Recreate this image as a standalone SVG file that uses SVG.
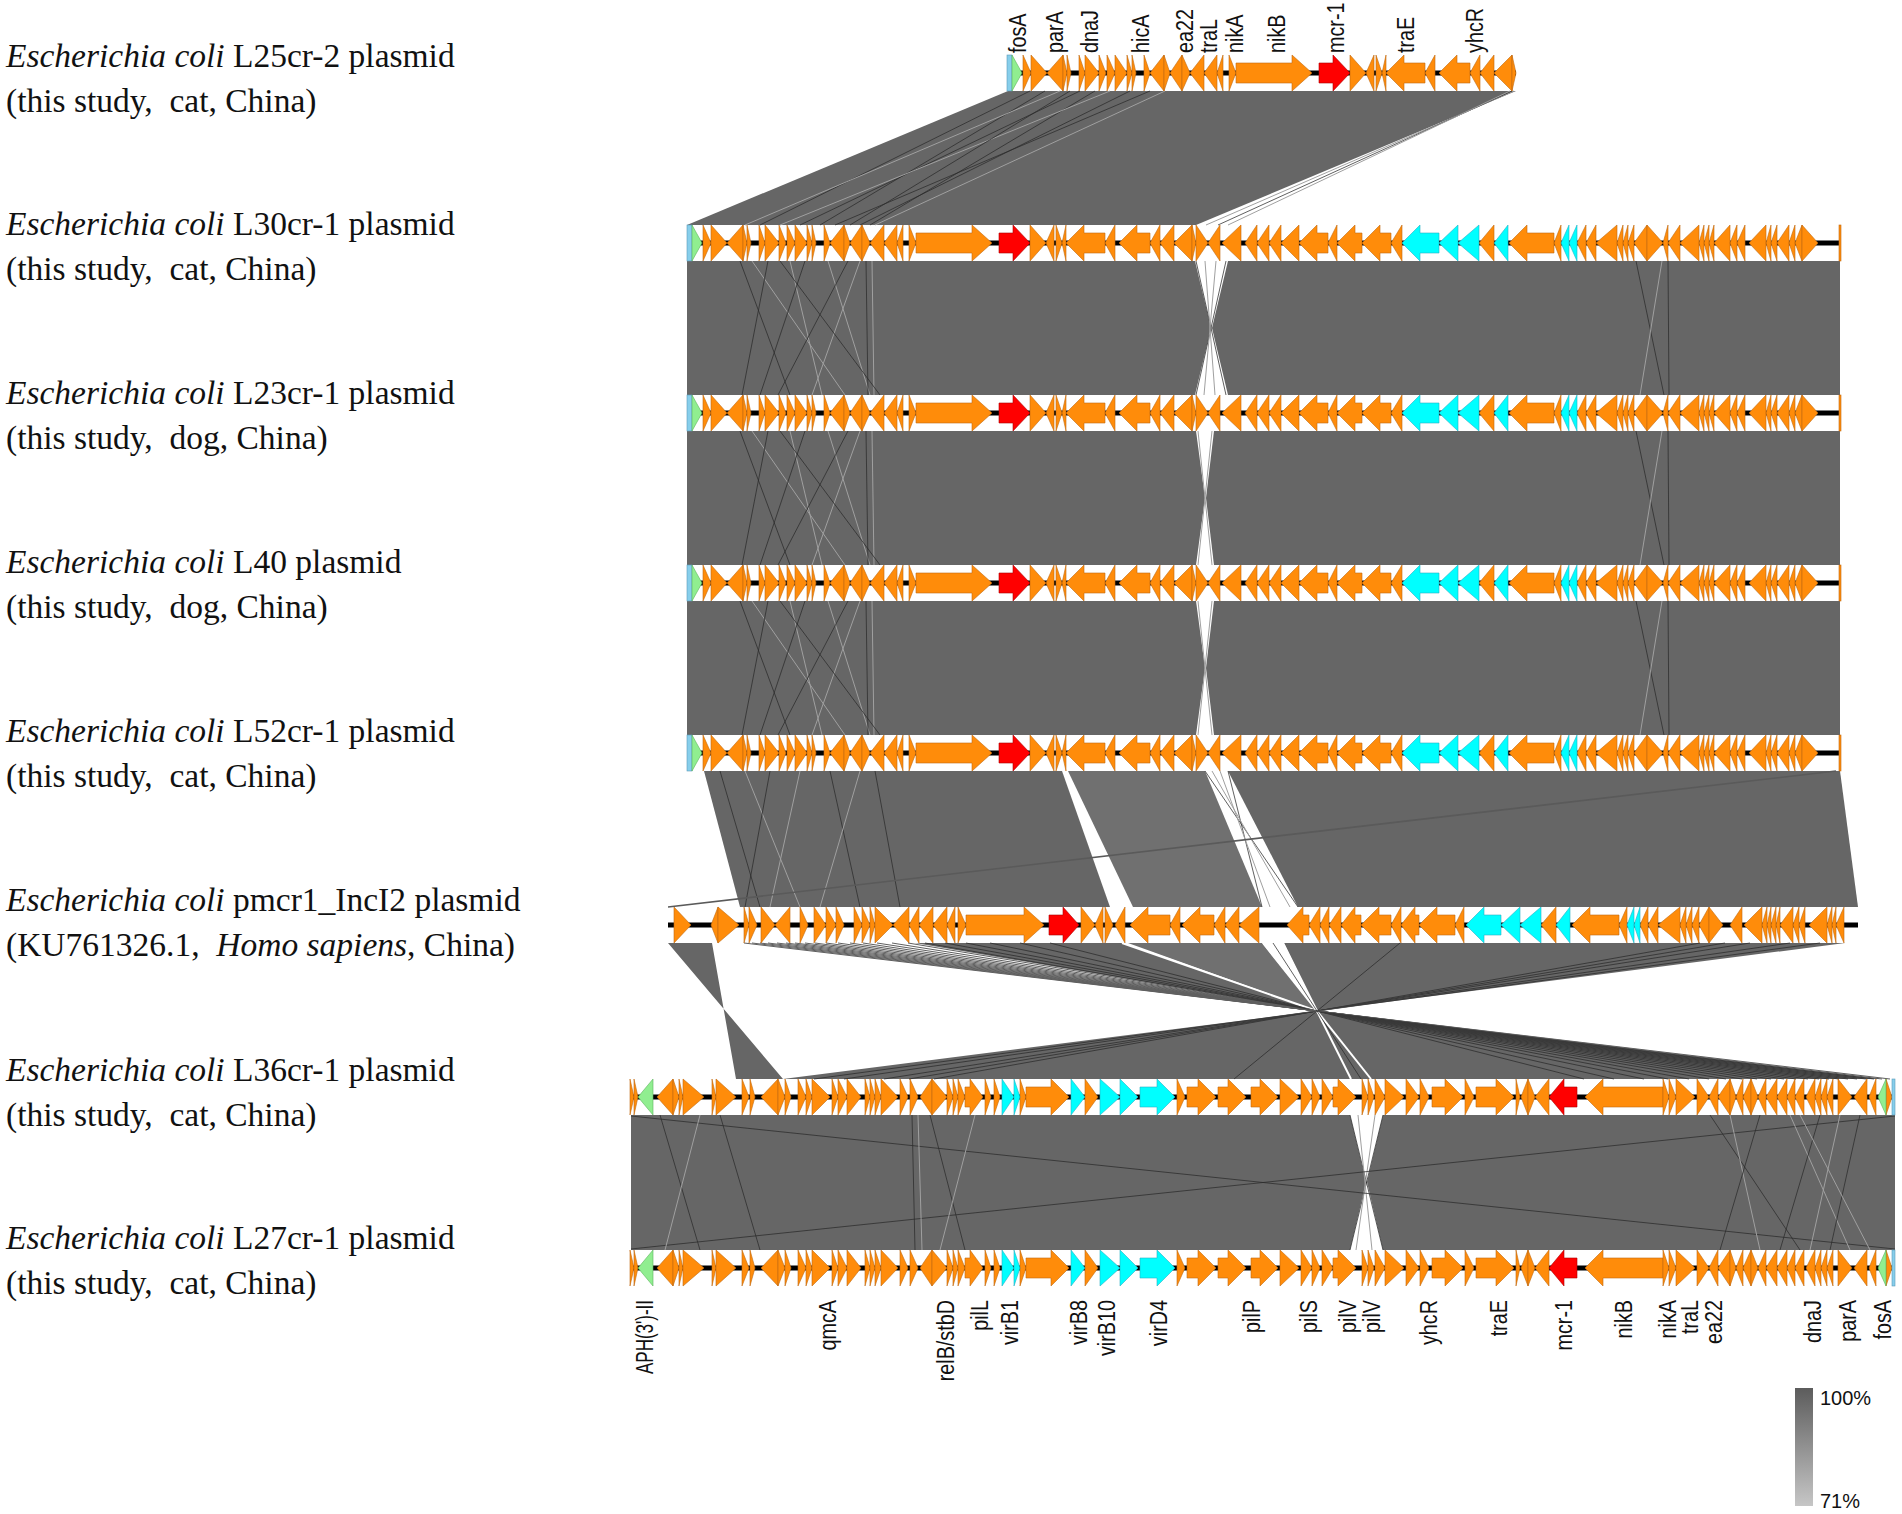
<svg xmlns="http://www.w3.org/2000/svg" xmlns:xlink="http://www.w3.org/1999/xlink" width="1902" height="1514" viewBox="0 0 1902 1514">
<style>
.o polygon,.o rect{fill:#FF8C0A;stroke:#C06A12;stroke-width:0.6}
.c polygon{fill:#00FFFF;stroke:#2AAFC4;stroke-width:0.6}
.r{fill:#FF0000;stroke:#A80000;stroke-width:0.6}
.g{fill:#90EE90;stroke:#5DB45D;stroke-width:0.6}
.b{fill:#87CEEB;stroke:#5A9BB8;stroke-width:0.6}
.bb{stroke:#000;stroke-width:5}
.gr{fill:#666666}
.gm{fill:#707070}
.ld{stroke:#2b2b2b;stroke-width:1;fill:none;opacity:.75}
.ll{stroke:#a0a0a0;stroke-width:1;fill:none}
.lw{stroke:#ffffff;stroke-width:2;fill:none}
.lab{font-family:"Liberation Sans",Arial,sans-serif}
.lab{font-family:"Liberation Serif","Times New Roman",serif;font-size:33.5px;fill:#111;white-space:pre}
.gl{font-family:"Liberation Sans",Arial,sans-serif;font-size:23px;fill:#111}
.lg{font-family:"Liberation Sans",Arial,sans-serif;font-size:20px;fill:#111}
</style>
<defs>
<linearGradient id="scale" x1="0" y1="0" x2="0" y2="1">
<stop offset="0" stop-color="#5c5c5c"/>
<stop offset="1" stop-color="#c6c6c6"/>
</linearGradient>
<g id="genes-a">
<rect class="b" x="687" y="-18" width="5" height="36"/>
<polygon class="g" points="692,-18 702,0 692,18"/>
<g class="o">
<polygon points="703,-18 711,0 703,18"/>
<polygon points="711,-18 727,0 711,18"/>
<polygon points="743,-18 727,0 743,18"/>
<polygon points="743,-18 747,0 743,18"/>
<polygon points="747,-18 751,0 747,18"/>
<polygon points="759,-18 765,0 759,18"/>
<polygon points="765,-18 779,0 765,18"/>
<polygon points="779,-18 786,0 779,18"/>
<polygon points="787,-18 795,0 787,18"/>
<polygon points="795,-18 807,0 795,18"/>
<polygon points="807,-18 812,0 807,18"/>
<polygon points="812,-18 816,0 812,18"/>
<polygon points="824,-18 830,0 824,18"/>
<polygon points="844,-18 830,0 844,18"/>
<polygon points="844,-18 850,0 844,18"/>
<polygon points="862,-18 850,0 862,18"/>
<polygon points="862,-18 870,0 862,18"/>
<polygon points="884,-18 870,0 884,18"/>
<polygon points="897,-18 884,0 897,18"/>
<polygon points="903,-18 897,0 903,18"/>
<polygon points="909,-18 916,0 909,18"/>
<polygon points="916,-10 972,-10 972,-18 992,0 972,18 972,10 916,10"/>
<polygon points="1030,-18 1046,0 1030,18"/>
<polygon points="1054,-18 1046,0 1054,18"/>
<polygon points="1056,-18 1062,0 1056,18"/>
<polygon points="1066,-18 1062,0 1066,18"/>
<polygon points="1105,-10 1084,-10 1084,-18 1066,0 1084,18 1084,10 1105,10"/>
<polygon points="1115,-18 1105,0 1115,18"/>
<polygon points="1150,-10 1137,-10 1137,-18 1119,0 1137,18 1137,10 1150,10"/>
<polygon points="1160,-18 1150,0 1160,18"/>
<polygon points="1174,-18 1160,0 1174,18"/>
<polygon points="1192,-18 1174,0 1192,18"/>
<polygon points="1192,-18 1196,0 1192,18"/>
</g>
<polygon class="r" points="999,-10 1013,-10 1013,-18 1030,0 1013,18 1013,10 999,10"/>
</g>
<g id="genes-b">
<g class="o">
<polygon points="1196,-18 1208,0 1196,18"/>
<polygon points="1220,-18 1208,0 1220,18"/>
<polygon points="1241,-18 1222,0 1241,18"/>
<polygon points="1257,-18 1245,0 1257,18"/>
<polygon points="1269,-18 1257,0 1269,18"/>
<polygon points="1281,-18 1269,0 1281,18"/>
<polygon points="1299,-18 1281,0 1299,18"/>
<polygon points="1328,-10 1317,-10 1317,-18 1299,0 1317,18 1317,10 1328,10"/>
<polygon points="1337,-18 1328,0 1337,18"/>
<polygon points="1362,-10 1355,-10 1355,-18 1337,0 1355,18 1355,10 1362,10"/>
<polygon points="1391,-10 1380,-10 1380,-18 1362,0 1380,18 1380,10 1391,10"/>
<polygon points="1402,-18 1391,0 1402,18"/>
<polygon points="1494,-18 1479,0 1494,18"/>
<polygon points="1554,-10 1527,-10 1527,-18 1509,0 1527,18 1527,10 1554,10"/>
<polygon points="1561,-18 1554,0 1561,18"/>
<polygon points="1586,-18 1577,0 1586,18"/>
<polygon points="1596,-18 1586,0 1596,18"/>
<polygon points="1617,-18 1596,0 1617,18"/>
<polygon points="1623,-18 1617,0 1623,18"/>
<polygon points="1628,-18 1623,0 1628,18"/>
<polygon points="1634,-18 1628,0 1634,18"/>
<polygon points="1647,-18 1634,0 1647,18"/>
<polygon points="1647,-18 1663,0 1647,18"/>
<polygon points="1668,-18 1663,0 1668,18"/>
<polygon points="1680,-18 1668,0 1680,18"/>
<polygon points="1699,-18 1680,0 1699,18"/>
<polygon points="1704,-18 1699,0 1704,18"/>
<polygon points="1709,-18 1704,0 1709,18"/>
<polygon points="1714,-18 1709,0 1714,18"/>
<polygon points="1730,-18 1714,0 1730,18"/>
<polygon points="1737,-18 1730,0 1737,18"/>
<polygon points="1745,-18 1737,0 1745,18"/>
<polygon points="1766,-18 1749,0 1766,18"/>
<polygon points="1771,-18 1766,0 1771,18"/>
<polygon points="1777,-18 1771,0 1777,18"/>
<polygon points="1789,-18 1777,0 1789,18"/>
<polygon points="1795,-18 1789,0 1795,18"/>
<polygon points="1802,-18 1795,0 1802,18"/>
<polygon points="1802,-18 1818,0 1802,18"/>
<rect x="1839" y="-18" width="2" height="36"/>
</g>
<g class="c">
<polygon points="1439,-10 1420,-10 1420,-18 1402,0 1420,18 1420,10 1439,10"/>
<polygon points="1458,-18 1439,0 1458,18"/>
<polygon points="1479,-18 1458,0 1479,18"/>
<polygon points="1508,-18 1494,0 1508,18"/>
<polygon points="1569,-18 1561,0 1569,18"/>
<polygon points="1577,-18 1569,0 1577,18"/>
</g>
</g>
<g id="genes-t6">
<g class="o">
<polygon points="674,-18 691,0 674,18"/>
<polygon points="718,-18 711,0 718,18"/>
<polygon points="718,-18 739,0 718,18"/>
<polygon points="744,-18 749,0 744,18"/>
<polygon points="749,-18 757,0 749,18"/>
<polygon points="761,-18 775,0 761,18"/>
<polygon points="790,-18 775,0 790,18"/>
<polygon points="800,-18 808,0 800,18"/>
<polygon points="814,-18 826,0 814,18"/>
<polygon points="826,-18 836,0 826,18"/>
<polygon points="836,-18 844,0 836,18"/>
<polygon points="854,-18 862,0 854,18"/>
<polygon points="862,-18 870,0 862,18"/>
<polygon points="870,-18 875,0 870,18"/>
<polygon points="875,-18 893,0 875,18"/>
<polygon points="909,-18 893,0 909,18"/>
<polygon points="919,-18 909,0 919,18"/>
<polygon points="933,-18 919,0 933,18"/>
<polygon points="947,-18 933,0 947,18"/>
<polygon points="955,-18 947,0 955,18"/>
<polygon points="958,-18 966,0 958,18"/>
<polygon points="966,-10 1024,-10 1024,-18 1044,0 1024,18 1024,10 966,10"/>
<polygon points="1081,-18 1095,0 1081,18"/>
<polygon points="1103,-18 1095,0 1103,18"/>
<polygon points="1105,-18 1113,0 1105,18"/>
<polygon points="1125,-18 1115,0 1125,18"/>
<polygon points="1170,-10 1148,-10 1148,-18 1130,0 1148,18 1148,10 1170,10"/>
<polygon points="1180,-18 1170,0 1180,18"/>
<polygon points="1214,-10 1200,-10 1200,-18 1182,0 1200,18 1200,10 1214,10"/>
<polygon points="1225,-18 1214,0 1225,18"/>
<polygon points="1239,-18 1225,0 1239,18"/>
<polygon points="1259,-18 1239,0 1259,18"/>
<polygon points="1309,-10 1303,-10 1303,-18 1287,0 1303,18 1303,10 1309,10"/>
<polygon points="1320,-18 1309,0 1320,18"/>
<polygon points="1329,-18 1320,0 1329,18"/>
<polygon points="1341,-18 1329,0 1341,18"/>
<polygon points="1361,-10 1355,-10 1355,-18 1341,0 1355,18 1355,10 1361,10"/>
<polygon points="1391,-10 1379,-10 1379,-18 1361,0 1379,18 1379,10 1391,10"/>
<polygon points="1401,-18 1391,0 1401,18"/>
<polygon points="1419,-10 1415,-10 1415,-18 1401,0 1415,18 1415,10 1419,10"/>
<polygon points="1455,-10 1437,-10 1437,-18 1419,0 1437,18 1437,10 1455,10"/>
<polygon points="1464,-18 1455,0 1464,18"/>
<polygon points="1556,-18 1541,0 1556,18"/>
<polygon points="1619,-10 1590,-10 1590,-18 1572,0 1590,18 1590,10 1619,10"/>
<polygon points="1627,-18 1619,0 1627,18"/>
<polygon points="1648,-18 1640,0 1648,18"/>
<polygon points="1658,-18 1648,0 1658,18"/>
<polygon points="1680,-18 1658,0 1680,18"/>
<polygon points="1686,-18 1680,0 1686,18"/>
<polygon points="1692,-18 1686,0 1692,18"/>
<polygon points="1699,-18 1692,0 1699,18"/>
<polygon points="1709,-18 1699,0 1709,18"/>
<polygon points="1709,-18 1723,0 1709,18"/>
<polygon points="1742,-18 1730,0 1742,18"/>
<polygon points="1762,-18 1744,0 1762,18"/>
<polygon points="1767,-18 1762,0 1767,18"/>
<polygon points="1771,-18 1767,0 1771,18"/>
<polygon points="1776,-18 1771,0 1776,18"/>
<polygon points="1780,-18 1776,0 1780,18"/>
<polygon points="1793,-18 1780,0 1793,18"/>
<polygon points="1799,-18 1793,0 1799,18"/>
<polygon points="1805,-18 1799,0 1805,18"/>
<polygon points="1827,-18 1809,0 1827,18"/>
<polygon points="1832,-18 1827,0 1832,18"/>
<polygon points="1836,-18 1832,0 1836,18"/>
<polygon points="1844,-18 1836,0 1844,18"/>
</g>
<g class="c">
<polygon points="1501,-10 1484,-10 1484,-18 1466,0 1484,18 1484,10 1501,10"/>
<polygon points="1520,-18 1501,0 1520,18"/>
<polygon points="1541,-18 1520,0 1541,18"/>
<polygon points="1570,-18 1556,0 1570,18"/>
<polygon points="1634,-18 1627,0 1634,18"/>
<polygon points="1640,-18 1634,0 1640,18"/>
</g>
<polygon class="r" points="1049,-10 1063,-10 1063,-18 1079,0 1063,18 1063,10 1049,10"/>
</g>
<g id="genes-t7">
<g class="o">
<polygon points="630,-18 634,0 630,18"/>
<polygon points="634,-18 638,0 634,18"/>
<polygon points="673,-18 657,0 673,18"/>
<polygon points="673,-18 679,0 673,18"/>
<polygon points="679,-18 683,0 679,18"/>
<polygon points="683,-18 704,0 683,18"/>
<polygon points="712,-18 716,0 712,18"/>
<polygon points="716,-18 736,0 716,18"/>
<polygon points="742,-18 749,0 742,18"/>
<polygon points="750,-18 755,0 750,18"/>
<polygon points="778,-18 761,0 778,18"/>
<polygon points="778,-18 785,0 778,18"/>
<polygon points="785,-18 791,0 785,18"/>
<polygon points="798,-18 806,0 798,18"/>
<polygon points="806,-18 812,0 806,18"/>
<polygon points="812,-18 830,0 812,18"/>
<polygon points="832,-18 838,0 832,18"/>
<polygon points="838,-18 847,0 838,18"/>
<polygon points="847,-18 861,0 847,18"/>
<polygon points="865,-18 870,0 865,18"/>
<polygon points="870,-18 875,0 870,18"/>
<polygon points="875,-18 881,0 875,18"/>
<polygon points="881,-18 898,0 881,18"/>
<polygon points="900,-18 908,0 900,18"/>
<polygon points="910,-18 918,0 910,18"/>
<polygon points="932,-18 920,0 932,18"/>
<polygon points="932,-18 947,0 932,18"/>
<polygon points="947,-18 953,0 947,18"/>
<polygon points="953,-18 958,0 953,18"/>
<polygon points="958,-18 965,0 958,18"/>
<polygon points="965,-10 970,-10 970,-18 983,0 970,18 970,10 965,10"/>
<polygon points="985,-18 991,0 985,18"/>
<polygon points="994,-18 1000,0 994,18"/>
<polygon points="1020,-18 1026,0 1020,18"/>
<polygon points="1026,-10 1051,-10 1051,-18 1069,0 1051,18 1051,10 1026,10"/>
<polygon points="1085,-18 1098,0 1085,18"/>
<polygon points="1177,-18 1185,0 1177,18"/>
<polygon points="1187,-10 1198,-10 1198,-18 1216,0 1198,18 1198,10 1187,10"/>
<polygon points="1218,-10 1228,-10 1228,-18 1246,0 1228,18 1228,10 1218,10"/>
<polygon points="1251,-10 1260,-10 1260,-18 1278,0 1260,18 1260,10 1251,10"/>
<polygon points="1280,-18 1299,0 1280,18"/>
<polygon points="1301,-18 1312,0 1301,18"/>
<polygon points="1312,-18 1320,0 1312,18"/>
<polygon points="1322,-18 1333,0 1322,18"/>
<polygon points="1333,-10 1338,-10 1338,-18 1356,0 1338,18 1338,10 1333,10"/>
<polygon points="1362,-18 1368,0 1362,18"/>
<polygon points="1368,-18 1374,0 1368,18"/>
<polygon points="1375,-18 1385,0 1375,18"/>
<polygon points="1385,-18 1404,0 1385,18"/>
<polygon points="1406,-18 1419,0 1406,18"/>
<polygon points="1420,-18 1429,0 1420,18"/>
<polygon points="1432,-10 1445,-10 1445,-18 1463,0 1445,18 1445,10 1432,10"/>
<polygon points="1465,-18 1474,0 1465,18"/>
<polygon points="1476,-10 1496,-10 1496,-18 1514,0 1496,18 1496,10 1476,10"/>
<polygon points="1516,-18 1520,0 1516,18"/>
<polygon points="1528,-18 1521,0 1528,18"/>
<polygon points="1528,-18 1535,0 1528,18"/>
<polygon points="1549,-18 1535,0 1549,18"/>
<polygon points="1663,-10 1603,-10 1603,-18 1585,0 1603,18 1603,10 1663,10"/>
<polygon points="1663,-18 1669,0 1663,18"/>
<polygon points="1669,-18 1676,0 1669,18"/>
<polygon points="1676,-18 1695,0 1676,18"/>
<polygon points="1697,-18 1709,0 1697,18"/>
<polygon points="1718,-18 1709,0 1718,18"/>
<polygon points="1730,-18 1718,0 1730,18"/>
<polygon points="1730,-18 1736,0 1730,18"/>
<polygon points="1743,-18 1736,0 1743,18"/>
<polygon points="1751,-18 1743,0 1751,18"/>
<polygon points="1751,-18 1758,0 1751,18"/>
<polygon points="1766,-18 1758,0 1766,18"/>
<polygon points="1777,-18 1766,0 1777,18"/>
<polygon points="1787,-18 1777,0 1787,18"/>
<polygon points="1795,-18 1787,0 1795,18"/>
<polygon points="1804,-18 1795,0 1804,18"/>
<polygon points="1815,-18 1806,0 1815,18"/>
<polygon points="1821,-18 1815,0 1821,18"/>
<polygon points="1827,-18 1821,0 1827,18"/>
<polygon points="1833,-18 1827,0 1833,18"/>
<polygon points="1838,-18 1852,0 1838,18"/>
<polygon points="1867,-18 1854,0 1867,18"/>
<polygon points="1876,-18 1869,0 1876,18"/>
<polygon points="1886,-18 1892,0 1886,18"/>
</g>
<polygon class="g" points="653,-18 638,0 653,18"/>
<polygon class="g" points="1886,-18 1878,0 1886,18"/>
<rect class="b" x="1892" y="-18" width="3" height="36"/>
<g class="c">
<polygon points="1002,-18 1014,0 1002,18"/>
<polygon points="1014,-18 1020,0 1014,18"/>
<polygon points="1071,-18 1085,0 1071,18"/>
<polygon points="1100,-18 1120,0 1100,18"/>
<polygon points="1120,-18 1138,0 1120,18"/>
<polygon points="1140,-10 1157,-10 1157,-18 1175,0 1157,18 1157,10 1140,10"/>
</g>
<polygon class="r" points="1577,-10 1564,-10 1564,-18 1549,0 1564,18 1564,10 1577,10"/>
</g>
<g id="xl">
<line class="ld" x1="740" y1="0" x2="790" y2="134"/>
<line class="ll" x1="752" y1="0" x2="845" y2="134"/>
<line class="ld" x1="768" y1="0" x2="742" y2="134"/>
<line class="ll" x1="790" y1="0" x2="822" y2="134"/>
<line class="ld" x1="805" y1="0" x2="760" y2="134"/>
<line class="ll" x1="828" y1="0" x2="870" y2="134"/>
<line class="ld" x1="848" y1="0" x2="778" y2="134"/>
<line class="ld" x1="866" y1="0" x2="868" y2="134"/>
<line class="ll" x1="872" y1="0" x2="874" y2="134"/>
<line class="ll" x1="860" y1="0" x2="812" y2="134"/>
<line class="ld" x1="780" y1="0" x2="880" y2="134"/>
<line class="ld" x1="1636" y1="0" x2="1664" y2="134"/>
<line class="ll" x1="1662" y1="0" x2="1640" y2="134"/>
<line class="ld" x1="1668" y1="0" x2="1669" y2="134"/>
</g>
</defs>
<rect x="0" y="0" width="1902" height="1514" fill="#ffffff"/>

<g id="connectors">
<polygon class="gr" points="1008,91 1516,91 1196,225 687,225"/>
<line class="ld" x1="1030" y1="91" x2="760" y2="225"/>
<line class="ld" x1="1045" y1="91" x2="820" y2="225"/>
<line class="ll" x1="1060" y1="91" x2="745" y2="225"/>
<line class="ld" x1="1080" y1="91" x2="800" y2="225"/>
<line class="ld" x1="1095" y1="91" x2="870" y2="225"/>
<line class="ll" x1="1110" y1="91" x2="780" y2="225"/>
<line class="ld" x1="1130" y1="91" x2="860" y2="225"/>
<line class="ld" x1="1150" y1="91" x2="835" y2="225"/>
<line class="ll" x1="1165" y1="91" x2="875" y2="225"/>
<line class="ld" x1="1070" y1="91" x2="850" y2="225"/>
<line class="ll" x1="1514" y1="91" x2="1206" y2="225"/>
<line class="ld" x1="1512" y1="91" x2="1218" y2="225"/>
<line class="ll" x1="1510" y1="91" x2="1228" y2="225"/>
<polygon class="gr" points="687,261 1195,261 1211,328 1195,395 687,395"/>
<polygon class="gr" points="1228,261 1840,261 1840,395 1228,395 1212,328"/>
<use href="#xl" transform="translate(0,261)"/>
<line class="ld" x1="1196" y1="261" x2="1226" y2="395"/>
<line class="ld" x1="1226" y1="261" x2="1196" y2="395"/>
<line class="ll" x1="1205" y1="261" x2="1215" y2="395"/>
<line class="ll" x1="1216" y1="261" x2="1204" y2="395"/>
<polygon class="gr" points="687,431 1196,431 1205,498 1196,565 687,565"/>
<polygon class="gr" points="1214,431 1840,431 1840,565 1214,565 1206,498"/>
<use href="#xl" transform="translate(0,431)"/>
<line class="ll" x1="1198" y1="431" x2="1212" y2="565"/>
<line class="ll" x1="1212" y1="431" x2="1198" y2="565"/>
<polygon class="gr" points="687,601 1196,601 1205,668 1196,735 687,735"/>
<polygon class="gr" points="1214,601 1840,601 1840,735 1214,735 1206,668"/>
<use href="#xl" transform="translate(0,601)"/>
<line class="ll" x1="1198" y1="601" x2="1212" y2="735"/>
<line class="ll" x1="1212" y1="601" x2="1198" y2="735"/>
<polygon class="gr" points="704,771 1062,771 1110,907 740,907"/>
<polygon class="gm" points="1068,771 1205,771 1262,907 1133,907"/>
<polygon class="gr" points="1228,771 1840,771 1858,907 1298,907"/>
<line class="ld" x1="1205" y1="771" x2="1298" y2="907"/>
<line class="ld" x1="1228" y1="771" x2="1262" y2="907"/>
<line class="ll" x1="1212" y1="771" x2="1290" y2="907"/>
<line class="ll" x1="1220" y1="771" x2="1270" y2="907"/>
<line class="ld" x1="720" y1="771" x2="760" y2="907"/>
<line class="ll" x1="745" y1="771" x2="800" y2="907"/>
<line class="ld" x1="770" y1="771" x2="745" y2="907"/>
<line class="ll" x1="800" y1="771" x2="770" y2="907"/>
<line class="ld" x1="830" y1="771" x2="860" y2="907"/>
<line class="ll" x1="860" y1="771" x2="820" y2="907"/>
<line class="ld" x1="875" y1="771" x2="900" y2="907"/>
<line stroke="#5a5a5a" stroke-width="1.6" x1="1836" y1="771" x2="668" y2="907"/>
<path class="gr" d="M668,943 L712,943 L736,1079 L783,1079 Z"/>
<polygon class="gr" points="915,943 1122,943 1317,1011"/>
<polygon class="gm" points="1128,943 1262,943 1317,1011"/>
<polygon class="gr" points="1284,943 1845,943 1317,1011"/>
<polygon class="gr" points="1317,1011 783,1079 1880,1079"/>
<line class="lw" x1="1122" y1="943" x2="1317" y2="1011"/>
<line class="lw" x1="1263" y1="943" x2="1371" y2="1079"/>
<line class="lw" x1="1283" y1="943" x2="1351" y2="1079"/>
<line class="ld" x1="1273" y1="943" x2="1361" y2="1079"/>
<g class="ld">
<line x1="744" y1="943" x2="1890" y2="1079"/>
<line x1="752" y1="943" x2="1882" y2="1079"/>
<line x1="760" y1="943" x2="1874" y2="1079"/>
<line x1="768" y1="943" x2="1866" y2="1079"/>
<line x1="777" y1="943" x2="1857" y2="1079"/>
<line x1="786" y1="943" x2="1848" y2="1079"/>
<line x1="795" y1="943" x2="1839" y2="1079"/>
<line x1="805" y1="943" x2="1829" y2="1079"/>
<line x1="815" y1="943" x2="1819" y2="1079"/>
<line x1="826" y1="943" x2="1808" y2="1079"/>
<line x1="838" y1="943" x2="1796" y2="1079"/>
<line x1="850" y1="943" x2="1784" y2="1079"/>
<line x1="863" y1="943" x2="1771" y2="1079"/>
<line x1="877" y1="943" x2="1757" y2="1079"/>
<line x1="892" y1="943" x2="1742" y2="1079"/>
<line x1="908" y1="943" x2="1726" y2="1079"/>
<line x1="925" y1="943" x2="1709" y2="1079"/>
<line x1="945" y1="943" x2="1689" y2="1079"/>
<line x1="966" y1="943" x2="1668" y2="1079"/>
<line x1="990" y1="943" x2="1644" y2="1079"/>
<line x1="1020" y1="943" x2="1614" y2="1079"/>
<line x1="1050" y1="943" x2="1584" y2="1079"/>
<line x1="1700" y1="943" x2="934" y2="1079"/>
<line x1="1725" y1="943" x2="909" y2="1079"/>
<line x1="1750" y1="943" x2="884" y2="1079"/>
<line x1="1790" y1="943" x2="844" y2="1079"/>
<line x1="1820" y1="943" x2="814" y2="1079"/>
<line x1="1400" y1="943" x2="1234" y2="1079"/>
</g>
<polygon class="gr" points="631,1115 1350,1115 1366,1182 1350,1250 631,1250"/>
<polygon class="gr" points="1383,1115 1895,1115 1895,1250 1383,1250 1367,1182"/>
<line class="ld" x1="1350" y1="1115" x2="1383" y2="1250"/>
<line class="ld" x1="1383" y1="1115" x2="1350" y2="1250"/>
<line class="ll" x1="1358" y1="1115" x2="1372" y2="1250"/>
<line class="ll" x1="1375" y1="1115" x2="1356" y2="1250"/>
<line class="ld" x1="631" y1="1116" x2="1895" y2="1249"/>
<line class="ld" x1="631" y1="1249" x2="1895" y2="1116"/>
<line class="ld" x1="660" y1="1115" x2="700" y2="1250"/>
<line class="ll" x1="700" y1="1115" x2="665" y2="1250"/>
<line class="ld" x1="720" y1="1115" x2="760" y2="1250"/>
<line class="ld" x1="912" y1="1115" x2="915" y2="1250"/>
<line class="ll" x1="918" y1="1115" x2="922" y2="1250"/>
<line class="ld" x1="930" y1="1115" x2="965" y2="1250"/>
<line class="ll" x1="975" y1="1115" x2="940" y2="1250"/>
<line class="ld" x1="1710" y1="1115" x2="1800" y2="1250"/>
<line class="ll" x1="1730" y1="1115" x2="1760" y2="1250"/>
<line class="ld" x1="1760" y1="1115" x2="1720" y2="1250"/>
<line class="ll" x1="1790" y1="1115" x2="1850" y2="1250"/>
<line class="ld" x1="1820" y1="1115" x2="1780" y2="1250"/>
<line class="ll" x1="1840" y1="1115" x2="1810" y2="1250"/>
<line class="ld" x1="1860" y1="1115" x2="1830" y2="1250"/>
<line class="ll" x1="1800" y1="1115" x2="1870" y2="1250"/>
</g>

<g id="track-L25cr-2">
<line class="bb" x1="1007" y1="73" x2="1516" y2="73"/>
<use href="#genes-a" transform="translate(320,73)"/>
<text class="lab" x="6" y="67"><tspan font-style="italic">Escherichia coli</tspan> L25cr-2 plasmid</text>
<text class="lab" x="6" y="112">(this study,  cat, China)</text>
<g class="gl">
<text transform="translate(1026,53) rotate(-90) scale(0.86,1)">fosA</text>
<text transform="translate(1063,53) rotate(-90) scale(0.86,1)">parA</text>
<text transform="translate(1098,53) rotate(-90) scale(0.86,1)">dnaJ</text>
<text transform="translate(1149,53) rotate(-90) scale(0.86,1)">hicA</text>
<text transform="translate(1193,53) rotate(-90) scale(0.86,1)">ea22</text>
<text transform="translate(1217,53) rotate(-90) scale(0.86,1)">traL</text>
<text transform="translate(1243,53) rotate(-90) scale(0.86,1)">nikA</text>
<text transform="translate(1285,53) rotate(-90) scale(0.86,1)">nikB</text>
<text transform="translate(1344,53) rotate(-90) scale(0.86,1)">mcr-1</text>
<text transform="translate(1414,53) rotate(-90) scale(0.86,1)">traE</text>
<text transform="translate(1483,53) rotate(-90) scale(0.86,1)">yhcR</text>
</g>
</g>

<g id="track-L30cr-1">
<line class="bb" x1="687" y1="243" x2="1841" y2="243"/>
<use href="#genes-a" transform="translate(0,243)"/>
<use href="#genes-b" transform="translate(0,243)"/>
<text class="lab" x="6" y="235"><tspan font-style="italic">Escherichia coli</tspan> L30cr-1 plasmid</text>
<text class="lab" x="6" y="280">(this study,  cat, China)</text>
</g>

<g id="track-L23cr-1">
<line class="bb" x1="687" y1="413" x2="1841" y2="413"/>
<use href="#genes-a" transform="translate(0,413)"/>
<use href="#genes-b" transform="translate(0,413)"/>
<text class="lab" x="6" y="404"><tspan font-style="italic">Escherichia coli</tspan> L23cr-1 plasmid</text>
<text class="lab" x="6" y="449">(this study,  dog, China)</text>
</g>

<g id="track-L40">
<line class="bb" x1="687" y1="583" x2="1841" y2="583"/>
<use href="#genes-a" transform="translate(0,583)"/>
<use href="#genes-b" transform="translate(0,583)"/>
<text class="lab" x="6" y="573"><tspan font-style="italic">Escherichia coli</tspan> L40 plasmid</text>
<text class="lab" x="6" y="618">(this study,  dog, China)</text>
</g>

<g id="track-L52cr-1">
<line class="bb" x1="687" y1="753" x2="1841" y2="753"/>
<use href="#genes-a" transform="translate(0,753)"/>
<use href="#genes-b" transform="translate(0,753)"/>
<text class="lab" x="6" y="742"><tspan font-style="italic">Escherichia coli</tspan> L52cr-1 plasmid</text>
<text class="lab" x="6" y="787">(this study,  cat, China)</text>
</g>

<g id="track-pmcr1_IncI2">
<line class="bb" x1="668" y1="925" x2="1858" y2="925"/>
<use href="#genes-t6" transform="translate(0,925)"/>
<text class="lab" x="6" y="911"><tspan font-style="italic">Escherichia coli</tspan> pmcr1_IncI2 plasmid</text>
<text class="lab" x="6" y="956">(KU761326.1,  <tspan font-style="italic">Homo sapiens</tspan>, China)</text>
</g>

<g id="track-L36cr-1">
<line class="bb" x1="631" y1="1097" x2="1895" y2="1097"/>
<use href="#genes-t7" transform="translate(0,1097)"/>
<text class="lab" x="6" y="1081"><tspan font-style="italic">Escherichia coli</tspan> L36cr-1 plasmid</text>
<text class="lab" x="6" y="1126">(this study,  cat, China)</text>
</g>

<g id="track-L27cr-1">
<line class="bb" x1="631" y1="1268" x2="1895" y2="1268"/>
<use href="#genes-t7" transform="translate(0,1268)"/>
<text class="lab" x="6" y="1249"><tspan font-style="italic">Escherichia coli</tspan> L27cr-1 plasmid</text>
<text class="lab" x="6" y="1294">(this study,  cat, China)</text>
<g class="gl" text-anchor="end">
<text transform="translate(653,1300) rotate(-90) scale(0.86,1)" textLength="86" lengthAdjust="spacingAndGlyphs">APH(3')-II</text>
<text transform="translate(836,1300) rotate(-90) scale(0.86,1)">qmcA</text>
<text transform="translate(954,1300) rotate(-90) scale(0.86,1)">relB/stbD</text>
<text transform="translate(988,1300) rotate(-90) scale(0.86,1)">pilL</text>
<text transform="translate(1018,1300) rotate(-90) scale(0.86,1)">virB1</text>
<text transform="translate(1087,1300) rotate(-90) scale(0.86,1)">virB8</text>
<text transform="translate(1115,1300) rotate(-90) scale(0.86,1)">virB10</text>
<text transform="translate(1167,1300) rotate(-90) scale(0.86,1)">virD4</text>
<text transform="translate(1260,1300) rotate(-90) scale(0.86,1)">pilP</text>
<text transform="translate(1317,1300) rotate(-90) scale(0.86,1)">pilS</text>
<text transform="translate(1356,1300) rotate(-90) scale(0.86,1)">pilV</text>
<text transform="translate(1380,1300) rotate(-90) scale(0.86,1)">pilV</text>
<text transform="translate(1437,1300) rotate(-90) scale(0.86,1)">yhcR</text>
<text transform="translate(1507,1300) rotate(-90) scale(0.86,1)">traE</text>
<text transform="translate(1572,1300) rotate(-90) scale(0.86,1)">mcr-1</text>
<text transform="translate(1632,1300) rotate(-90) scale(0.86,1)">nikB</text>
<text transform="translate(1676,1300) rotate(-90) scale(0.86,1)">nikA</text>
<text transform="translate(1698,1300) rotate(-90) scale(0.86,1)">traL</text>
<text transform="translate(1722,1300) rotate(-90) scale(0.86,1)">ea22</text>
<text transform="translate(1821,1300) rotate(-90) scale(0.86,1)">dnaJ</text>
<text transform="translate(1856,1300) rotate(-90) scale(0.86,1)">parA</text>
<text transform="translate(1891,1300) rotate(-90) scale(0.86,1)">fosA</text>
</g>
</g>

<g id="legend">
<rect x="1795" y="1388" width="18" height="118" fill="url(#scale)"/>
<text class="lg" x="1820" y="1405">100%</text>
<text class="lg" x="1820" y="1508">71%</text>
</g>
</svg>
